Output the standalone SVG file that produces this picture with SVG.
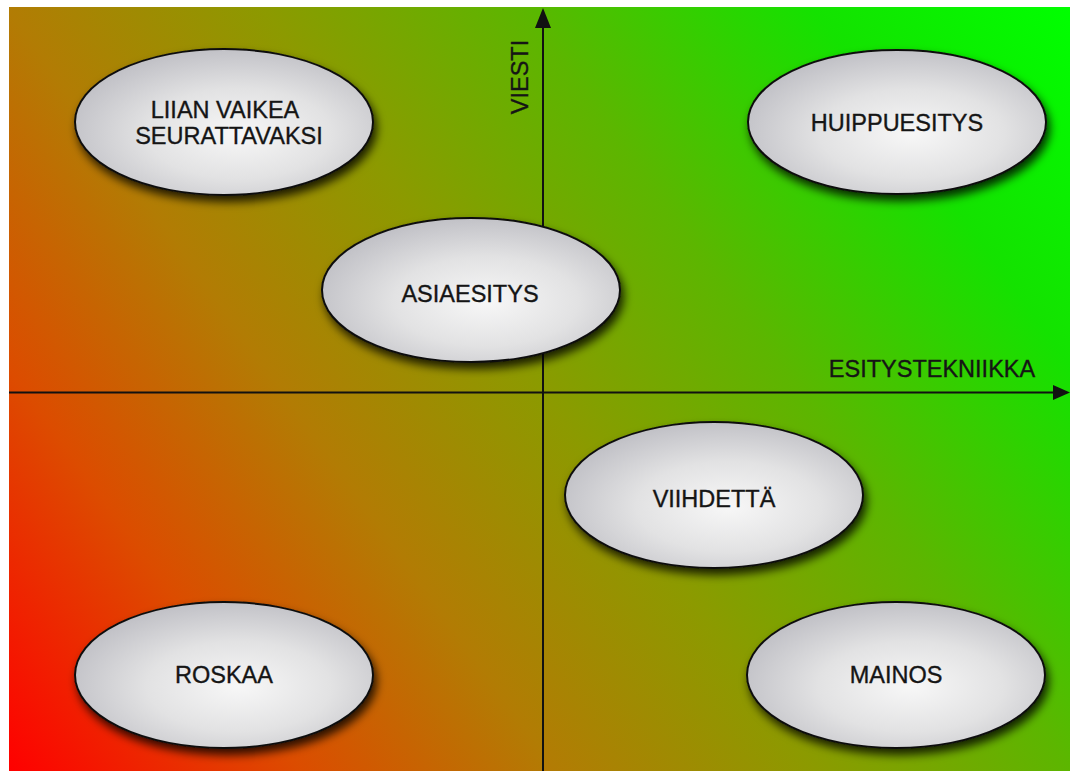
<svg xmlns="http://www.w3.org/2000/svg" width="1070" height="771" viewBox="0 0 1070 771">
  <style>
    .node ellipse { fill: url(#pill); stroke: #111; stroke-width: 2; filter: url(#shadow); }
    .node text, .axis-label { font-family: "Liberation Sans", Arial, sans-serif; font-size: 23.5px; fill: #151515; stroke: #151515; stroke-width: 0.35; text-anchor: middle; }
    .axis { stroke: #111; stroke-width: 2; fill: none; }
    .head { fill: #111; }
  </style>
  <defs>
    <linearGradient id="bg" gradientUnits="userSpaceOnUse" x1="9" y1="771" x2="1070" y2="7">
      <stop offset="0" stop-color="#ff0000"/>
      <stop offset="0.18" stop-color="#dc4c00"/>
      <stop offset="0.34" stop-color="#b27c04"/>
      <stop offset="0.5" stop-color="#8c9a00"/>
      <stop offset="0.66" stop-color="#5cb600"/>
      <stop offset="0.84" stop-color="#14e200"/>
      <stop offset="1" stop-color="#00ff00"/>
    </linearGradient>
    <radialGradient id="pill" cx="0.55" cy="0.58" r="0.62">
      <stop offset="0" stop-color="#f7f7f7"/>
      <stop offset="0.5" stop-color="#e2e2e3"/>
      <stop offset="1" stop-color="#bdbdc3"/>
    </radialGradient>
    <filter id="shadow" x="-20%" y="-20%" width="140%" height="150%">
      <feGaussianBlur in="SourceAlpha" stdDeviation="5"/>
      <feOffset dx="3" dy="6" result="b"/>
      <feFlood flood-color="#000" flood-opacity="0.8"/>
      <feComposite in2="b" operator="in"/>
      <feMerge>
        <feMergeNode/>
        <feMergeNode in="SourceGraphic"/>
      </feMerge>
    </filter>
  </defs>

  <rect x="0" y="0" width="1070" height="771" fill="#ffffff"/>
  <rect x="9" y="7" width="1061" height="764" fill="url(#bg)"/>

  <g id="connectors">
    <line class="axis" x1="543" y1="771" x2="543" y2="26"/>
    <polygon class="head" points="543,8 551,28 535,28"/>
    <line class="axis" x1="9" y1="392.5" x2="1055" y2="392.5"/>
    <polygon class="head" points="1070,392.5 1053,385 1053,400"/>
    <text class="axis-label" transform="translate(528,77) rotate(-90)">VIESTI</text>
    <text class="axis-label" x="932" y="377">ESITYSTEKNIIKKA</text>
  </g>

  <g id="node-liian-vaikea" class="node">
    <ellipse cx="224" cy="122" rx="149" ry="73"/>
    <text x="225" y="118">LIIAN VAIKEA</text>
    <text x="229" y="144">SEURATTAVAKSI</text>
  </g>
  <g id="node-huippuesitys" class="node">
    <ellipse cx="897" cy="122" rx="149" ry="72"/>
    <text x="897" y="131">HUIPPUESITYS</text>
  </g>
  <g id="node-asiaesitys" class="node">
    <ellipse cx="471" cy="290" rx="149" ry="72"/>
    <text x="470" y="302">ASIAESITYS</text>
  </g>
  <g id="node-viihdetta" class="node">
    <ellipse cx="714" cy="495" rx="149" ry="73"/>
    <text x="714" y="507">VIIHDETTÄ</text>
  </g>
  <g id="node-roskaa" class="node">
    <ellipse cx="224" cy="675" rx="149" ry="73"/>
    <text x="224" y="683">ROSKAA</text>
  </g>
  <g id="node-mainos" class="node">
    <ellipse cx="896" cy="675" rx="149" ry="73"/>
    <text x="896" y="683">MAINOS</text>
  </g>
</svg>
